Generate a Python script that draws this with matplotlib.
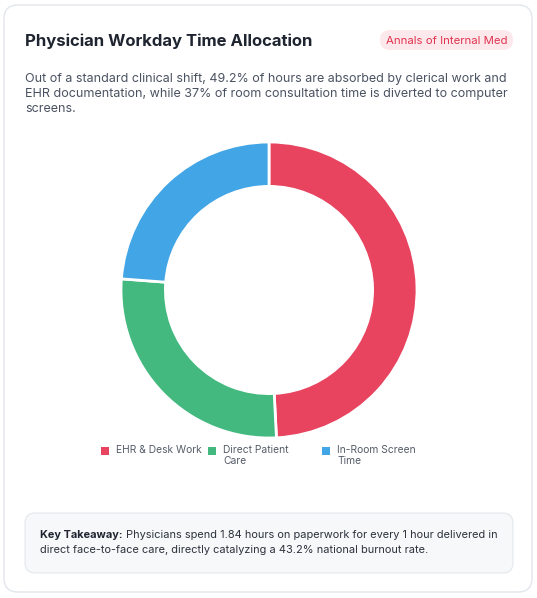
import matplotlib
matplotlib.use("Agg")
import matplotlib.pyplot as plt
from matplotlib.patches import FancyBboxPatch

categories = ["EHR & Desk Work", "Direct Patient\nCare", "In-Room Screen\nTime"]
values = [49.2, 27.0, 23.8]
colors = ["#e8445f", "#43b97f", "#42a5e6"]

plt.rcParams['font.family'] = ['Inter', 'DejaVu Sans']
W, H = 537, 598
fig = plt.figure(figsize=(W/100, H/100), dpi=100)
fig.patch.set_facecolor("white")
bg = fig.add_axes([0, 0, 1, 1]); bg.set_xlim(0, W); bg.set_ylim(H, 0); bg.axis("off")
bg.add_patch(FancyBboxPatch((4, 5), W-9, H-11, boxstyle="round,pad=0,rounding_size=14",
                            fc="white", ec="#e2e5ea", lw=1))
bg.text(25, 41, "Physician Workday Time Allocation", fontsize=12, fontweight="bold",
        color="#1f2530", va="center")
bg.add_patch(FancyBboxPatch((380, 30), 133, 20, boxstyle="round,pad=0,rounding_size=10",
                            fc="#fde8ec", ec="none"))
bg.text(446.5, 40.5, "Annals of Internal Med", fontsize=8.2, color="#e0344f", ha="center", va="center")
bg.text(25, 94, "Out of a standard clinical shift, 49.2% of hours are absorbed by clerical work and\n"
        "EHR documentation, while 37% of room consultation time is diverted to computer\nscreens.",
        fontsize=9.0, color="#4a5261", va="center", linespacing=1.35)

ax = fig.add_axes([(269-148)/W, 1-(290+148)/H, 296/W, 296/H])
ax.pie(values, colors=colors, startangle=90, counterclock=False, radius=1,
       wedgeprops=dict(width=0.3, edgecolor="white", linewidth=2))
ax.set_xlim(-1, 1); ax.set_ylim(-1, 1)
ax.set_aspect("equal")

lx = [101, 208, 322]
for x, c, lab in zip(lx, colors, categories):
    bg.add_patch(plt.Rectangle((x, 447), 8, 8, fc=c, ec="none"))
    bg.text(x+15, 445, lab, fontsize=7.4, color="#555c68", va="top", linespacing=1.1)
bg.add_patch(plt.Rectangle((200, 463), 230, 12, fc="white", ec="none"))

bg.add_patch(FancyBboxPatch((25, 513), 488, 60, boxstyle="round,pad=0,rounding_size=10",
                            fc="#f6f8fa", ec="#e5e8ec", lw=0.8))
t = bg.text(40, 535, "Key Takeaway:", fontsize=7.9, fontweight="bold", color="#1f2530", va="center")
fig.canvas.draw()
bb = t.get_window_extent()
bg.text(40 + bb.width + 3, 535, "Physicians spend 1.84 hours on paperwork for every 1 hour delivered in",
        fontsize=7.9, color="#2c323c", va="center")
bg.text(40, 550, "direct face-to-face care, directly catalyzing a 43.2% national burnout rate.",
        fontsize=7.9, color="#2c323c", va="center")
fig.savefig("out.png", dpi=100, facecolor="white")
